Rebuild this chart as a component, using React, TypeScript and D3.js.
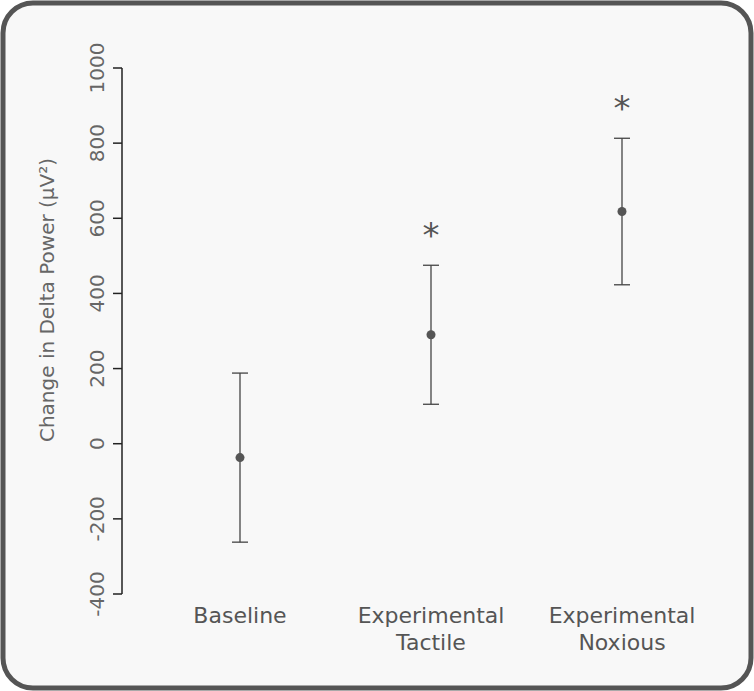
import { useEffect, useRef } from "react";
import * as d3 from "d3";

const conditions = ["Baseline", "Experimental Tactile", "Experimental Noxious"];
const labelLines = [["Baseline"], ["Experimental", "Tactile"], ["Experimental", "Noxious"]];
const means = [-37, 290, 618];
const errors = [225, 185, 195];
const significant = [false, true, true];
const yTicks = [-400, -200, 0, 200, 400, 600, 800, 1000];

const W = 754;
const H = 691;
const FONT = "DejaVu Sans";

export default function App() {
  const svgRef = useRef<SVGSVGElement>(null);

  useEffect(() => {
    document.body.style.margin = "0";
    const svg = d3.select(svgRef.current);
    svg.selectAll("*").remove();

    // frame
    svg
      .append("rect")
      .attr("x", 3)
      .attr("y", 3)
      .attr("width", W - 6)
      .attr("height", H - 6)
      .attr("rx", 30)
      .attr("fill", "#f8f8f8")
      .attr("stroke", "#555")
      .attr("stroke-width", 5);

    const yScale = d3.scaleLinear().domain([-400, 1000]).range([594, 68]);
    const xScale = d3.scaleBand().domain(conditions).range([144.5, 717.5]);
    const cx = (c: string) => xScale(c)! + xScale.bandwidth() / 2;

    // y axis
    const axisX = 122;
    const axis = svg.append("g").attr("transform", `translate(${axisX},0)`);
    axis
      .append("line")
      .attr("y1", yScale(1000))
      .attr("y2", yScale(-400))
      .attr("stroke", "#222")
      .attr("stroke-width", 1.5);
    yTicks.forEach((t) => {
      axis
        .append("line")
        .attr("x1", -9)
        .attr("x2", 0)
        .attr("y1", yScale(t))
        .attr("y2", yScale(t))
        .attr("stroke", "#222")
        .attr("stroke-width", 1.5);
      axis
        .append("text")
        .attr("transform", `translate(-18,${yScale(t)}) rotate(-90)`)
        .attr("text-anchor", "middle")
        .attr("font-family", FONT)
        .attr("font-size", 20)
        .attr("fill", "#666")
        .text(t);
    });

    svg
      .append("text")
      .attr("transform", `translate(54,300) rotate(-90)`)
      .attr("text-anchor", "middle")
      .attr("font-family", FONT)
      .attr("font-size", 20)
      .attr("fill", "#666")
      .text("Change in Delta Power (μV²)");

    // error bars and points
    conditions.forEach((c, i) => {
      const x = cx(c);
      const top = yScale(means[i] + errors[i]);
      const bot = yScale(means[i] - errors[i]);
      const g = svg.append("g").attr("stroke", "#444").attr("stroke-width", 1.3);
      g.append("line").attr("x1", x).attr("x2", x).attr("y1", top).attr("y2", bot);
      g.append("line").attr("x1", x - 8).attr("x2", x + 8).attr("y1", top).attr("y2", top);
      g.append("line").attr("x1", x - 8).attr("x2", x + 8).attr("y1", bot).attr("y2", bot);
      svg
        .append("circle")
        .attr("cx", x)
        .attr("cy", yScale(means[i]))
        .attr("r", 4.5)
        .attr("fill", "#555");

      if (significant[i]) {
        svg
          .append("text")
          .attr("x", x)
          .attr("y", top - 18)
          .attr("text-anchor", "middle")
          .attr("font-family", FONT)
          .attr("font-size", 34)
          .attr("fill", "#555")
          .text("*");
      }

      const label = svg
        .append("text")
        .attr("text-anchor", "middle")
        .attr("font-family", FONT)
        .attr("font-size", 22)
        .attr("fill", "#555");
      labelLines[i].forEach((line, j) => {
        label
          .append("tspan")
          .attr("x", x)
          .attr("y", 623 + j * 27)
          .text(line);
      });
    });
  }, []);

  return <svg ref={svgRef} width={W} height={H} style={{ display: "block" }}></svg>;
}
